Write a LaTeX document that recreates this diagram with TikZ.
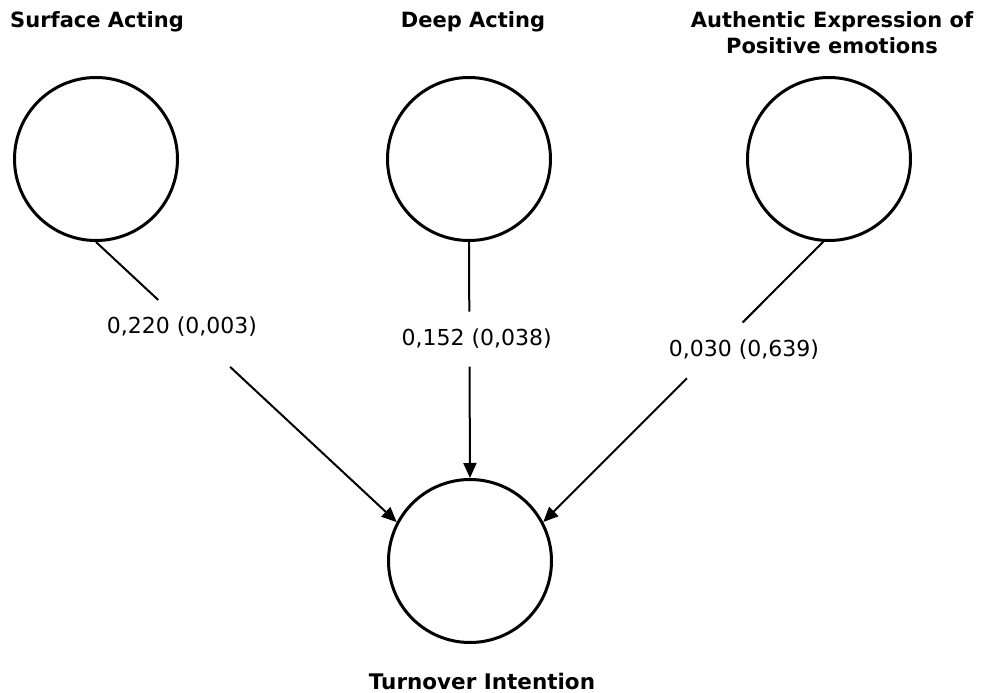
\documentclass[tikz,border=0pt]{standalone}
\usepackage{fontspec}
\setmainfont{DejaVu Sans}
\usetikzlibrary{arrows.meta}
\begin{document}
\begin{tikzpicture}[x=1pt,y=-1pt,
  latent/.style={circle,draw=black,line width=3pt,minimum size=163pt,inner sep=0pt},
  title/.style={font=\bfseries\fontsize{21}{26}\selectfont,inner sep=0pt,align=center},
  coef/.style={font=\fontsize{22}{26}\selectfont,inner sep=0pt},
  link/.style={line width=2pt,draw=black},
  arr/.style={link,-{Triangle[length=15pt,width=13pt]}}]
\useasboundingbox[fill=white] (0,0) rectangle (983,693);
% constructs
\node[latent] (sa) at (96,159) {};
\node[latent] (da) at (469,159) {};
\node[latent] (au) at (829,159) {};
\node[latent] (ti) at (470,561) {};
% titles
\node[title,anchor=base west] (tsa) at (10,27.3) {Surface Acting};
\node[title,anchor=base] (tda) at (473,27.3) {Deep Acting};
\node[title,anchor=north] (tau) at (832,11.4) {Authentic Expression of\\Positive emotions};
\node[title,font=\bfseries\fontsize{21.5}{26}\selectfont,anchor=base] (tti) at (482,689) {Turnover Intention};
% paths with gaps for labels
\path (sa.south) -- (ti.152) coordinate[pos=0.207] (s1) coordinate[pos=0.446] (s2);
\path (da.south) -- (ti.north) coordinate[pos=0.295] (d1) coordinate[pos=0.528] (d2);
\path (au.266) -- (ti.28) coordinate[pos=0.288] (a1) coordinate[pos=0.487] (a2);
\draw[link] (sa.south) -- (s1);
\draw[arr] (s2) -- (ti.152);
\draw[link] (da.south) -- (d1);
\draw[arr] (d2) -- (ti.north);
\draw[link] (au.266) -- (a1);
\draw[arr] (a2) -- (ti.28);
% coefficients
\node[coef] (csa) at (182,327) {0,220 (0,003)};
\node[coef] (cda) at (476.7,339) {0,152 (0,038)};
\node[coef] (cau) at (744,350) {0,030 (0,639)};
\end{tikzpicture}
\end{document}
